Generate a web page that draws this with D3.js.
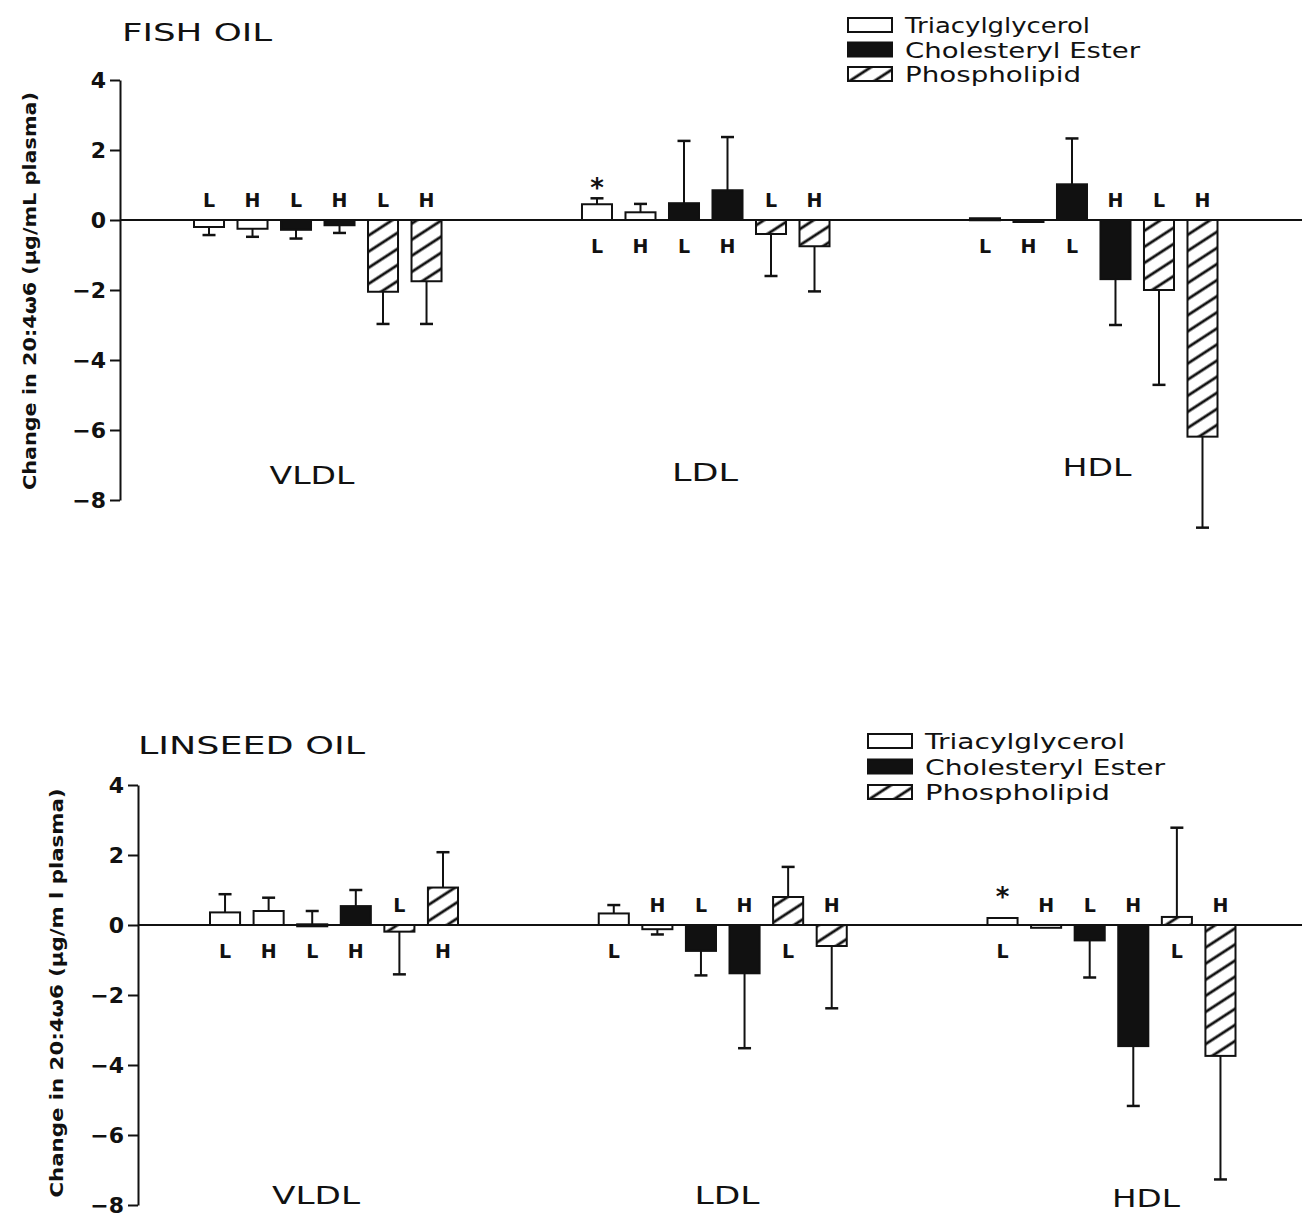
<!DOCTYPE html>
<html>
<head>
<meta charset="utf-8">
<script src="https://cdn.jsdelivr.net/npm/d3@7"></script>
<style>
  body { margin: 0; background: #fff; }
  text { font-family: "DejaVu Sans", "Liberation Sans", Arial, sans-serif; fill: #111; }
</style>
</head>
<body>
<div id="chart"></div>
<script>
// lipoprotein classes and lipid fractions, each fraction shown for L and H diet dose
const lipoproteins = ['VLDL', 'LDL', 'HDL'];
const fractions = ['Triacylglycerol', 'Cholesteryl Ester', 'Phospholipid'];
const diets = ['L', 'H'];
const yTicks = [4, 2, 0, -2, -4, -6, -8];

// order inside each class: TG-L, TG-H, CE-L, CE-H, PL-L, PL-H
const fishMeans = [
    [-0.2, -0.25, -0.28, -0.15, -2.05, -1.75],
    [0.45, 0.22, 0.48, 0.85, -0.4, -0.75],
    [0.05, -0.03, 1.02, -1.69, -2.0, -6.19]
];
const fishErrors = [
    [0.23, 0.23, 0.25, 0.22, 0.92, 1.22],
    [0.17, 0.24, 1.78, 1.52, 1.2, 1.29],
    [0, 0, 1.31, 1.31, 2.71, 2.6]
];
const fishStars = [[1, 0]];

const linseedMeans = [
    [0.36, 0.4, 0.02, 0.54, -0.19, 1.07],
    [0.33, -0.12, -0.74, -1.38, 0.8, -0.6],
    [0.2, -0.08, -0.44, -3.46, 0.23, -3.74]
];
const linseedErrors = [
    [0.52, 0.38, 0.38, 0.46, 1.22, 1.01],
    [0.24, 0.15, 0.7, 2.14, 0.86, 1.78],
    [0, 0, 1.06, 1.71, 2.55, 3.53]
];
const linseedStars = [[2, 0]];

const width = 1307, height = 1218;

const svg = d3.select('#chart').append('svg')
    .attr('width', width)
    .attr('height', height);

// diagonal hatch for phospholipid
const defs = svg.append('defs');
const hatch = defs.append('pattern')
    .attr('id', 'hatch')
    .attr('patternUnits', 'userSpaceOnUse')
    .attr('width', 20)
    .attr('height', 13.5)
    .attr('patternTransform', 'rotate(-33)');
hatch.append('rect').attr('width', 20).attr('height', 13.5).attr('fill', '#fff');
hatch.append('line')
    .attr('x1', 0).attr('x2', 20).attr('y1', 6.75).attr('y2', 6.75)
    .attr('stroke', '#111').attr('stroke-width', 2.8);

const fillFor = f => f === 'Triacylglycerol' ? '#fff' : (f === 'Cholesteryl Ester' ? '#111' : 'url(#hatch)');

const barKeys = d3.cross(fractions, diets).map(([f, d]) => f + '|' + d);

function drawPanel(cfg) {
    const g = svg.append('g');

    const y = d3.scaleLinear().domain([-8, 4]).range(cfg.yRange);

    const groupScale = d3.scaleBand()
        .domain(lipoproteins)
        .range(cfg.xRange)
        .paddingInner(0.362)
        .paddingOuter(0);

    const barScale = d3.scaleBand()
        .domain(barKeys)
        .range([0, groupScale.bandwidth()])
        .paddingInner(0.31)
        .paddingOuter(0);

    const yAxis = d3.axisLeft(y)
        .tickValues(yTicks)
        .tickSize(10)
        .tickPadding(4)
        .tickSizeOuter(0);

    const gY = g.append('g')
        .attr('transform', `translate(${cfg.axisX},0)`)
        .call(yAxis);
    gY.select('.domain').attr('stroke', '#111').attr('stroke-width', 2);
    gY.selectAll('.tick line').attr('stroke', '#111').attr('stroke-width', 2);
    gY.selectAll('.tick text')
        .style('font-family', '"DejaVu Sans", sans-serif')
        .style('font-size', '22px')
        .style('font-weight', 'bold')
        .attr('dy', '0.36em')
        .attr('fill', '#111');

    // zero line
    g.append('line')
        .attr('x1', cfg.axisX).attr('x2', 1302)
        .attr('y1', y(0)).attr('y2', y(0))
        .attr('stroke', '#111').attr('stroke-width', 2);

    const bars = [];
    lipoproteins.forEach((lp, gi) => {
        barKeys.forEach((key, bi) => {
            const [fraction, diet] = key.split('|');
            bars.push({
                lp, gi, bi, fraction, diet,
                value: cfg.means[gi][bi],
                err: cfg.errors[gi][bi],
                x: groupScale(lp) + barScale(key)
            });
        });
    });
    const bw = barScale.bandwidth();
    const tip = d => y(d.value + (d.value >= 0 ? d.err : -d.err));

    // error bars first so the bar sits on top
    const withErr = bars.filter(d => d.err > 0);
    g.append('g').selectAll('line')
        .data(withErr)
        .enter().append('line')
        .attr('x1', d => d.x + bw / 2).attr('x2', d => d.x + bw / 2)
        .attr('y1', d => y(d.value))
        .attr('y2', tip)
        .attr('stroke', '#111').attr('stroke-width', 2);
    g.append('g').selectAll('line')
        .data(withErr)
        .enter().append('line')
        .attr('x1', d => d.x + bw / 2 - 6.5).attr('x2', d => d.x + bw / 2 + 6.5)
        .attr('y1', tip)
        .attr('y2', tip)
        .attr('stroke', '#111').attr('stroke-width', 2.5);

    g.append('g').selectAll('rect')
        .data(bars)
        .enter().append('rect')
        .attr('x', d => d.x)
        .attr('y', d => y(Math.max(0, d.value)))
        .attr('width', bw)
        .attr('height', d => Math.max(2, Math.abs(y(d.value) - y(0))))
        .attr('fill', d => fillFor(d.fraction))
        .attr('stroke', '#111')
        .attr('stroke-width', 2);

    // L / H labels on the side opposite the bar
    g.append('g').selectAll('text')
        .data(bars)
        .enter().append('text')
        .attr('x', d => d.x + bw / 2)
        .attr('y', d => (d.value >= -0.05) ? y(0) + 33 : y(0) - 13)
        .attr('text-anchor', 'middle')
        .style('font-size', '19px')
        .style('font-weight', 'bold')
        .text(d => d.diet);

    // significance stars
    g.append('g').selectAll('text')
        .data(cfg.stars)
        .enter().append('text')
        .attr('x', ([gi, bi]) => groupScale(lipoproteins[gi]) + barScale(barKeys[bi]) + bw / 2)
        .attr('y', ([gi, bi]) => y(cfg.means[gi][bi] + cfg.errors[gi][bi]) - cfg.starGap)
        .attr('text-anchor', 'middle')
        .style('font-size', '26px')
        .style('font-weight', 'bold')
        .text('*');

    // lipoprotein class names
    g.append('g').selectAll('text')
        .data(lipoproteins)
        .enter().append('text')
        .attr('x', (d, i) => cfg.classX[i])
        .attr('y', (d, i) => cfg.classY[i])
        .attr('text-anchor', 'middle')
        .attr('textLength', (d, i) => cfg.classLens[i])
        .attr('lengthAdjust', 'spacingAndGlyphs')
        .style('font-size', '25px')
        .text(d => d);

    g.append('text')
        .attr('x', cfg.titleX).attr('y', cfg.titleY)
        .attr('textLength', cfg.titleLen)
        .attr('lengthAdjust', 'spacingAndGlyphs')
        .style('font-size', '24px')
        .text(cfg.title);

    g.append('text')
        .attr('transform', `translate(${cfg.yLabelX},${cfg.yLabelY}) rotate(-90)`)
        .attr('text-anchor', 'middle')
        .attr('textLength', cfg.yLabelLen)
        .attr('lengthAdjust', 'spacingAndGlyphs')
        .style('font-size', '18px')
        .style('font-weight', 'bold')
        .text(cfg.yLabel);

    // legend
    const legend = g.append('g')
        .attr('transform', `translate(${cfg.legendX},${cfg.legendY})`);
    const rows = legend.selectAll('g')
        .data(fractions)
        .enter().append('g')
        .attr('transform', (d, i) => `translate(0,${i * cfg.legendStep})`);
    rows.append('rect')
        .attr('x', 0).attr('y', -7)
        .attr('width', 44).attr('height', 14)
        .attr('fill', d => fillFor(d))
        .attr('stroke', '#111').attr('stroke-width', 2);
    rows.append('text')
        .attr('x', 57).attr('y', 8)
        .attr('textLength', (d, i) => cfg.legendLens[i])
        .attr('lengthAdjust', 'spacingAndGlyphs')
        .style('font-size', '22px')
        .text(d => d);
}

drawPanel({
    title: 'FISH OIL',
    yLabel: 'Change in 20:4ω6 (μg/mL plasma)',
    means: fishMeans, errors: fishErrors, stars: fishStars, starGap: 1,
    axisX: 120, yRange: [500, 80], xRange: [194, 1217.5],
    classX: [312, 705, 1097], classY: [484, 481, 476], classLens: [85, 66, 69],
    titleX: 122, titleY: 41, titleLen: 150,
    yLabelX: 36, yLabelY: 291, yLabelLen: 398,
    legendX: 848, legendY: 25, legendStep: 24.5, legendLens: [185, 235, 176]
});

drawPanel({
    title: 'LINSEED OIL',
    yLabel: 'Change in 20:4ω6 (μg/m l plasma)',
    means: linseedMeans, errors: linseedErrors, stars: linseedStars, starGap: 12,
    axisX: 138, yRange: [1205, 785], xRange: [210, 1235.5],
    classX: [316, 727, 1146], classY: [1204, 1204, 1207], classLens: [88, 65, 68],
    titleX: 138, titleY: 754, titleLen: 227,
    yLabelX: 63, yLabelY: 993, yLabelLen: 409,
    legendX: 868, legendY: 741, legendStep: 25.5, legendLens: [200, 240, 185]
});
</script>
</body>
</html>
